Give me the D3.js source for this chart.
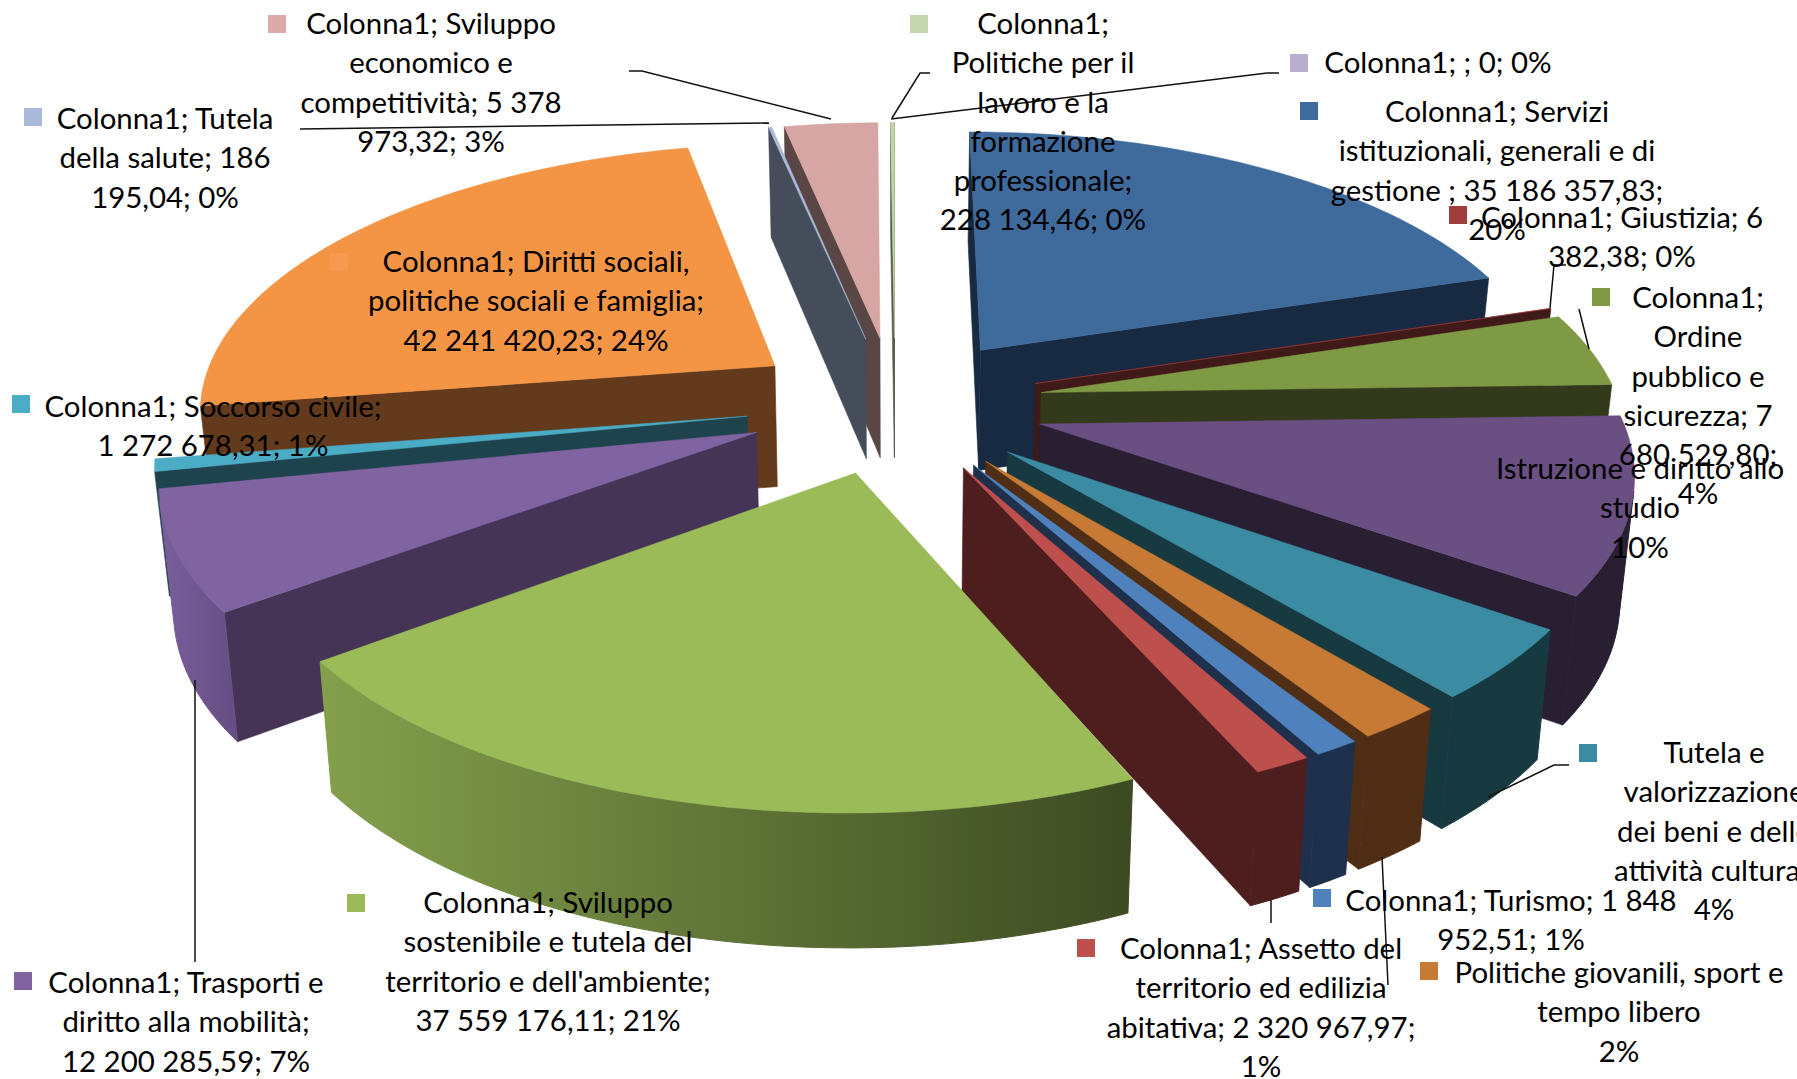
<!DOCTYPE html>
<meta charset="utf-8">
<style>
  body { margin: 0; background: #fff; overflow: hidden; }
  svg { display: block; }
  text.lab { font-family: Lato, "Open Sans", sans-serif; font-size: 29.4px; fill: #000; text-anchor: middle; }
</style>
<script src="https://d3js.org/d3.v7.min.js"></script>
<div id="chart"></div>
<script>
// slice data, in pie order (clockwise from 12 o'clock)
var categories = ["Servizi istituzionali", "Giustizia", "Ordine pubblico", "Istruzione", "Tutela beni culturali",
  "Politiche giovanili", "Turismo", "Assetto territorio", "Sviluppo sostenibile", "Trasporti", "Soccorso civile",
  "Diritti sociali", "Tutela salute", "Sviluppo economico", "Politiche lavoro", ""];
var values = [35186357.83, 6382.38, 7680529.80, 18000000, 7300000, 3500000, 1848952.51, 2320967.97,
  37559176.11, 12200285.59, 1272678.31, 42241420.23, 186195.04, 5378973.32, 228134.46, 0];

// colours per slice
var topColors = ["#3f6a9c", "#9e3d3b", "#7f9a45", "#6a4f82", "#3b8ba3", "#c67a35", "#4f81bd", "#bd4f4c",
  "#9bbb59", "#8064a2", "#4bacc6", "#f39544", "#a8b9d9", "#d6a6a5", "#c3d5a5", "#b9aecb"];
var wallColors = ["#182a41", "#401a18", "#33391b", "#291f33", "#173940", "#4f2e15", "#1e304b", "#4e1e1e",
  "#3c4a22", "#453455", "#1f434d", "#633a1b", "#454c5a", "#5a4644", "#555b4c", "#444444"];
var rimLeft = ["#182a41", "#401a18", "#33391b", "#291f33", "#173940", "#4f2e15", "#1e304b", "#4e1e1e",
  "#84a04c", "#7a5f9b", "#1f434d", "#633a1b", "#454c5a", "#5a4644", "#555b4c", "#444444"];
var rimRight = ["#182a41", "#401a18", "#33391b", "#291f33", "#173940", "#4f2e15", "#1e304b", "#4e1e1e",
  "#3c4a22", "#654e83", "#1f434d", "#633a1b", "#454c5a", "#5a4644", "#555b4c", "#444444"];

// labels: lines, text centre x, y of first line
var labelLines = [
  ["Colonna1; Sviluppo", "economico e", "competitività; 5 378", "973,32; 3%"],
  ["Colonna1;", "Politiche per il", "lavoro e la", "formazione", "professionale;", "228 134,46; 0%"],
  ["Colonna1; ; 0; 0%"],
  ["Colonna1; Servizi", "istituzionali, generali e di", "gestione ; 35 186 357,83;", "20%"],
  ["Colonna1; Giustizia; 6", "382,38; 0%"],
  ["Colonna1;", "Ordine", "pubblico e", "sicurezza; 7", "680 529,80;", "4%"],
  ["Istruzione e diritto allo", "studio", "10%"],
  ["Tutela e", "valorizzazione", "dei beni e delle", "attività culturali", "4%"],
  ["Colonna1; Turismo; 1 848", "952,51; 1%"],
  ["Politiche giovanili, sport e", "tempo libero", "2%"],
  ["Colonna1; Assetto del", "territorio ed edilizia", "abitativa; 2 320 967,97;", "1%"],
  ["Colonna1; Sviluppo", "sostenibile e tutela del", "territorio e dell'ambiente;", "37 559 176,11; 21%"],
  ["Colonna1; Trasporti e", "diritto alla mobilità;", "12 200 285,59; 7%"],
  ["Colonna1; Soccorso civile;", "1 272 678,31; 1%"],
  ["Colonna1; Diritti sociali,", "politiche sociali e famiglia;", "42 241 420,23; 24%"],
  ["Colonna1; Tutela", "della salute; 186", "195,04; 0%"]
];
var labelX = [431, 1043, 1438, 1497, 1622, 1698, 1640, 1714, 1511, 1619, 1261, 548, 186, 213, 536, 165];
var labelY = [24, 24, 63, 112, 218, 298, 469, 753, 901, 973, 949, 903, 983, 407, 262, 119];
var swatchColors = ["#dba9a8", "#c6d7ad", "#b9aecb", "#3f6a9c", "#9e3d3b", "#7f9a45", null, "#3b8ba3",
  "#4f81bd", "#c67a35", "#bd4f4c", "#9bbb59", "#8064a2", "#4bacc6", "#f59a4e", "#a8b9d9"];
var swatchX = [277, 919, 1299, 1309, 1458, 1601, 0, 1588, 1322, 1429, 1086, 356, 23, 21, 339, 33];
var swatchY = [24, 24, 63, 111, 215, 297, 0, 753, 898, 971, 948, 903, 981, 404, 262, 117];

// leader lines
var leaders = [
  [[629, 71], [642, 71], [831, 119]],
  [[300, 129], [769, 123]],
  [[930, 73], [920, 73], [892, 118]],
  [[1279, 73], [1267, 73], [891, 119]],
  [[1566, 265], [1554, 265], [1550, 308]],
  [[1579, 309], [1589, 349]],
  [[1569, 765], [1554, 765], [1488, 797]],
  [[1382, 857], [1388, 985]],
  [[1271, 900], [1271, 923]],
  [[195, 680], [195, 962]]
];

var W = 1797, H = 1079;
var cx = 895, cy = 404;
var explode = 0.258, persp = 0.15;

var svg = d3.select("#chart").append("svg").attr("width", W).attr("height", H);
var defs = svg.append("defs");

// pie plane to pixels
var xScale = d3.scaleLinear().domain([-1, 1]).range([cx - 578, cx + 578]);
var yScale = d3.scaleLinear().domain([-1, 1]).range([cy - 266, cy + 266]);
var depthScale = d3.scaleLinear().domain([-1.2, 1.26]).range([110, 135]);

function project(px, py) {
  var w = 1 / (1 - persp * py);
  return [xScale(px * w), yScale(py * w)];
}
// same point on the underside of the pie
function lower(px, py) {
  var p = project(px, py);
  return [cx + (p[0] - cx) * 0.98, p[1] + depthScale(py)];
}
function area(pts) {
  var s = 0;
  pts.forEach(function(p, i) {
    var q = pts[(i + 1) % pts.length];
    s += p[0] * q[1] - q[0] * p[1];
  });
  return s / 2;
}

var line = d3.line();
var arcs = d3.pie().sort(null).value(function(d) { return d; })(values);

var slices = arcs.map(function(a, i) {
  var mid = (a.startAngle + a.endAngle) / 2;
  return {
    i: i,
    a0: a.startAngle,
    a1: a.endAngle,
    ox: explode * Math.sin(mid),
    oy: -explode * Math.cos(mid)
  };
}).filter(function(s) { return values[s.i] > 0; });

// back slices first
slices.sort(function(a, b) { return a.oy - b.oy; });

slices.forEach(function(s) {
  var g = svg.append("g").attr("class", "slice");
  var n = Math.max(2, Math.ceil((s.a1 - s.a0) / (Math.PI / 180)));
  var plane = d3.range(n + 1).map(function(k) {
    var t = s.a0 + (s.a1 - s.a0) * k / n;
    return [s.ox + Math.sin(t), s.oy - Math.cos(t)];
  });
  var apex = [s.ox, s.oy];

  function quad(p, q) {
    return [project(p[0], p[1]), project(q[0], q[1]), lower(q[0], q[1]), lower(p[0], p[1])];
  }
  // side face below one edge of the top, only if it faces us
  function wall(p, q) {
    var pts = quad(p, q);
    if (area(pts) >= 0) return;
    g.append("path").attr("d", line(pts) + "Z").attr("fill", wallColors[s.i])
      .attr("stroke", wallColors[s.i]).attr("stroke-width", 0.6);
  }
  wall(apex, plane[0]);
  wall(plane[n], apex);

  // outer rim: the part of the arc facing us, as one shape with a left-right gradient
  var vis = plane.filter(function(p, k) {
    return (k < n && area(quad(p, plane[k + 1])) < 0) || (k > 0 && area(quad(plane[k - 1], p)) < 0);
  });
  if (vis.length > 1) {
    var rimTop = vis.map(function(p) { return project(p[0], p[1]); });
    var rimLow = vis.map(function(p) { return lower(p[0], p[1]); }).reverse();
    var xs = rimTop.concat(rimLow).map(function(p) { return p[0]; });
    var id = "rim" + s.i;
    var grad = defs.append("linearGradient").attr("id", id).attr("gradientUnits", "userSpaceOnUse")
      .attr("x1", d3.min(xs)).attr("x2", d3.max(xs)).attr("y1", 0).attr("y2", 0);
    grad.append("stop").attr("offset", 0).attr("stop-color", rimLeft[s.i]);
    grad.append("stop").attr("offset", 1).attr("stop-color", rimRight[s.i]);
    g.append("path").attr("d", line(rimTop.concat(rimLow)) + "Z").attr("fill", "url(#" + id + ")")
      .attr("stroke", "url(#" + id + ")").attr("stroke-width", 1);
  }

  var topPts = [apex].concat(plane).map(function(p) { return project(p[0], p[1]); });
  g.append("path").attr("d", line(topPts) + "Z").attr("fill", topColors[s.i])
    .attr("stroke", topColors[s.i]).attr("stroke-width", 0.5);
});

// leader lines
svg.append("g").selectAll("path").data(leaders).enter().append("path")
  .attr("d", function(d) { return line(d); })
  .attr("fill", "none").attr("stroke", "#111").attr("stroke-width", 1.5);

// swatches
swatchColors.forEach(function(c, i) {
  if (!c) return;
  svg.append("rect").attr("x", swatchX[i] - 9).attr("y", swatchY[i] - 9)
    .attr("width", 18).attr("height", 18).attr("fill", c);
});

// label texts
labelLines.forEach(function(lines, i) {
  var lh = 39.2;
  lines.forEach(function(t, j) {
    svg.append("text").attr("class", "lab")
      .attr("x", labelX[i]).attr("y", labelY[i] + j * lh).attr("dy", ".35em").text(t);
  });
});
</script>
